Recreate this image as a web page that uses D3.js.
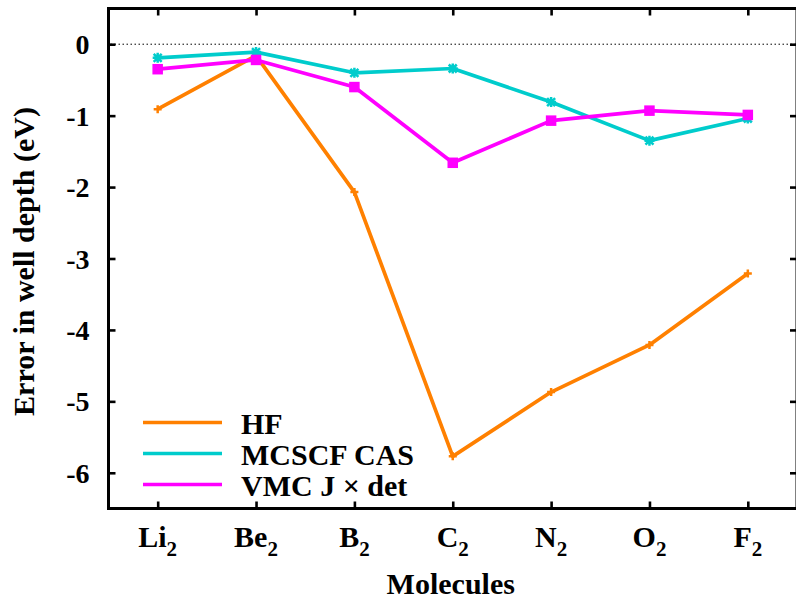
<!DOCTYPE html>
<html>
<head>
<meta charset="utf-8">
<script src="https://cdn.jsdelivr.net/npm/d3@7"></script>
<style>
html,body{margin:0;padding:0;background:#fff;}
svg{display:block;}
text{font-family:"Liberation Serif","Times New Roman",serif;font-weight:bold;fill:#000;}
</style>
</head>
<body>
<svg id="chart" width="796" height="599"></svg>
<script>
// ---- data ----
const molecules = ["Li", "Be", "B", "C", "N", "O", "F"];   // each is X2
const moleculeSub = "2";
const hf     = [-0.91, -0.16, -2.07, -5.77, -4.87, -4.21, -3.21];
const mcscf  = [-0.19, -0.11, -0.40, -0.34, -0.81, -1.35, -1.04];
const vmc    = [-0.35, -0.22, -0.60, -1.66, -1.07, -0.93, -0.99];
const seriesNames = ["HF", "MCSCF CAS", "VMC J \u00d7 det"];
const yTicks = [0, -1, -2, -3, -4, -5, -6];
const yTickLabels = ["0", "-1", "-2", "-3", "-4", "-5", "-6"];

const colors = ["#ff8000", "#00cccc", "#ff00ff"];
const markers = ["plus", "star", "square"];
const series = [hf, mcscf, vmc];

// ---- layout ----
const svg = d3.select("#chart");
const L = 108.5, R = 797, T = 8.5, B = 508.5;
const x = d3.scaleLinear().domain([0.5, 7.5]).range([L, R]);
const y = d3.scaleLinear().domain([-6.5, 0.5]).range([B, T]);
const xIdx = molecules.map((m, i) => i + 1);

// zero dotted line
svg.append("line")
  .attr("x1", L + 2).attr("x2", R)
  .attr("y1", y(0)).attr("y2", y(0))
  .attr("stroke", "#000").attr("stroke-width", 1)
  .attr("stroke-dasharray", "1.5,2.5");

// axes (ticks inward)
const tickLen = 7;
const yAxis = d3.axisLeft(y).tickValues(yTicks).tickSize(-tickLen)
  .tickFormat((d, i) => yTickLabels[i]);
const yAxisR = d3.axisRight(y).tickValues(yTicks).tickSize(-tickLen).tickFormat("");
const xAxis = d3.axisBottom(x).tickValues(xIdx).tickSize(-tickLen).tickFormat("");
const xAxisT = d3.axisTop(x).tickValues(xIdx).tickSize(-tickLen).tickFormat("");

function styleAxis(g) {
  g.select(".domain").remove();
  g.selectAll(".tick line").attr("stroke", "#000").attr("stroke-width", 2.6);
}
const gy = svg.append("g").attr("transform", `translate(${L},0)`).call(yAxis).call(styleAxis);
gy.selectAll(".tick text")
  .attr("font-size", 28).attr("font-family", "Liberation Serif").attr("font-weight", "bold")
  .attr("x", -19).attr("dy", "0.34em").attr("text-anchor", "end");
svg.append("g").attr("transform", `translate(${R},0)`).call(yAxisR).call(styleAxis);
svg.append("g").attr("transform", `translate(0,${B})`).call(xAxis).call(styleAxis);
svg.append("g").attr("transform", `translate(0,${T})`).call(xAxisT).call(styleAxis);

// x tick labels with subscripts
const xl = svg.append("g");
molecules.forEach((m, i) => {
  const t = xl.append("text")
    .attr("x", x(xIdx[i])).attr("y", 547)
    .attr("text-anchor", "middle").attr("font-size", 30);
  t.append("tspan").text(m);
  t.append("tspan").attr("font-size", 21).attr("dy", 9).text(moleculeSub);
});

// frame
svg.append("rect")
  .attr("x", L).attr("y", T).attr("width", R - L).attr("height", B - T)
  .attr("fill", "none").attr("stroke", "#000").attr("stroke-width", 3);

// axis titles
svg.append("text")
  .attr("transform", `translate(34,${(T + B) / 2 + 3}) rotate(-90)`)
  .attr("text-anchor", "middle").attr("font-size", 30)
  .text("Error in well depth (eV)");
svg.append("text")
  .attr("x", (L + R) / 2 - 2).attr("y", 594)
  .attr("text-anchor", "middle").attr("font-size", 30)
  .text("Molecules");

// series
const line = d3.line().x((d, i) => x(xIdx[i])).y(d => y(d));
function drawMarker(g, type, cx, cy, color) {
  if (type === "plus") {
    const s = 4;
    g.append("path").attr("d", `M${cx - s},${cy}H${cx + s}M${cx},${cy - s}V${cy + s}`)
      .attr("stroke", color).attr("stroke-width", 2.5).attr("fill", "none");
  } else if (type === "star") {
    const s = 5;
    g.append("path").attr("d",
      `M${cx - s},${cy}H${cx + s}M${cx},${cy - s}V${cy + s}M${cx - s * 0.8},${cy - s * 0.8}L${cx + s * 0.8},${cy + s * 0.8}M${cx - s * 0.8},${cy + s * 0.8}L${cx + s * 0.8},${cy - s * 0.8}`)
      .attr("stroke", color).attr("stroke-width", 2.5).attr("fill", "none");
  } else {
    const s = 4.5;
    g.append("rect").attr("x", cx - s).attr("y", cy - s).attr("width", 2 * s).attr("height", 2 * s)
      .attr("fill", color).attr("stroke", color).attr("stroke-width", 1.5);
  }
}
series.forEach((vals, k) => {
  const g = svg.append("g");
  g.append("path").datum(vals).attr("d", line)
    .attr("fill", "none").attr("stroke", colors[k]).attr("stroke-width", 3.7)
    .attr("stroke-linejoin", "round");
  vals.forEach((v, i) => drawMarker(g, markers[k], x(xIdx[i]), y(v), colors[k]));
});

// legend
const legY = [422.5, 453.5, 484.5];
seriesNames.forEach((name, k) => {
  svg.append("line").attr("x1", 143).attr("x2", 222).attr("y1", legY[k]).attr("y2", legY[k])
    .attr("stroke", colors[k]).attr("stroke-width", 3.7);
  svg.append("text").attr("x", 241).attr("y", legY[k] + 11).attr("font-size", 30).text(name);
});
</script>
</body>
</html>
